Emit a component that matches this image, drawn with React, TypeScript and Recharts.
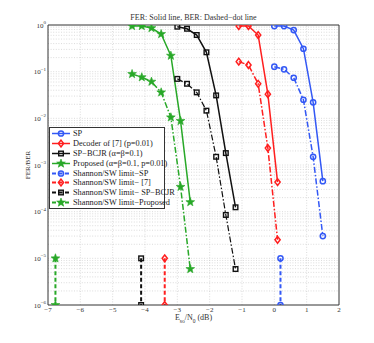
import React from "react";
import { LineChart, Line, XAxis, YAxis, ReferenceLine } from "recharts";

const FONT = '"Liberation Serif", "Times New Roman", serif';

// x positions (dB) and FER/BER values per decoder
const spX = [0, 0.3, 0.6, 0.9, 1.2, 1.5];
const spFer = [0.95, 0.95, 0.78, 0.31, 0.022, 4.5e-4];
const spBer = [0.128, 0.112, 0.074, 0.025, 1.5e-3, 3.0e-5];

const ref7X = [-1.1, -0.8, -0.5, -0.2, 0.1];
const ref7Fer = [0.95, 0.95, 0.61, 0.033, 4.3e-4];
const ref7Ber = [0.164, 0.139, 0.055, 2.3e-3, 2.5e-5];

const bcjrX = [-3.0, -2.7, -2.4, -2.1, -1.8, -1.5, -1.2];
const bcjrFer = [0.92, 0.83, 0.61, 0.26, 0.031, 1.8e-3, 1.24e-4];
const bcjrBer = [0.07, 0.055, 0.036, 0.0146, 1.5e-3, 8.5e-5, 5.9e-6];

const propX = [-4.4, -4.1, -3.8, -3.5, -3.2, -2.9, -2.6];
const propFer = [0.95, 0.95, 0.86, 0.64, 0.22, 0.0088, 1.6e-4];
const propBer = [0.089, 0.076, 0.061, 0.036, 0.0105, 3.4e-4, 5.9e-6];

// Shannon/SW limits
const limitY = [1e-5, 1e-6];
const spLimit = 0.19;
const ref7Limit = -3.39;
const bcjrLimit = -4.12;
const propLimit = -6.77;

const xTicks = [-7, -6, -5, -4, -3, -2, -1, 0, 1, 2];
const yTicks = [1e-6, 1e-5, 1e-4, 1e-3, 1e-2, 1e-1, 1];
const minorY = [-6, -5, -4, -3, -2, -1].flatMap((e) =>
  [2, 3, 4, 5, 6, 7, 8, 9].map((k) => k * Math.pow(10, e))
);

const BLUE = "#3358f5";
const RED = "#ff1f1f";
const BLACK = "#111111";
const GREEN = "#28a828";

const zip = (xs: number[], ys: number[]) => xs.map((x, i) => ({ x, y: ys[i] }));
const vert = (x: number) => limitY.map((y) => ({ x, y }));

type Shape = "circle" | "diamond" | "square" | "star";

function markerPath(shape: Shape, cx: number, cy: number, color: string, key?: any) {
  if (shape === "circle")
    return <circle key={key} cx={cx} cy={cy} r={2.6} fill="none" stroke={color} strokeWidth={1.5} />;
  if (shape === "diamond")
    return (
      <polygon
        key={key}
        points={`${cx},${cy - 3.4} ${cx + 2.6},${cy} ${cx},${cy + 3.4} ${cx - 2.6},${cy}`}
        fill="none"
        stroke={color}
        strokeWidth={1.5}
      />
    );
  if (shape === "square")
    return <rect key={key} x={cx - 2.3} y={cy - 2.3} width={4.6} height={4.6} fill="none" stroke={color} strokeWidth={1.4} />;
  const pts: string[] = [];
  for (let i = 0; i < 10; i++) {
    const r = i % 2 === 0 ? 4.6 : 1.9;
    const a = (Math.PI / 5) * i - Math.PI / 2;
    pts.push(`${cx + r * Math.cos(a)},${cy + r * Math.sin(a)}`);
  }
  return <polygon key={key} points={pts.join(" ")} fill={color} stroke={color} strokeWidth={0.6} />;
}

const dot = (shape: Shape, color: string) => (p: any) =>
  p.cx == null || p.cy == null ? <g key={p.key} /> : markerPath(shape, p.cx, p.cy, color, p.key);

const YTick = ({ x, y, payload }: any) => {
  const e = Math.round(Math.log10(payload.value));
  return (
    <text x={x + 6} y={y + 2.5} textAnchor="end" fontSize={7} fontFamily={FONT} fill="#333">
      10
      <tspan dy={-3.5} fontSize={5}>
        {e === 0 ? "0" : "−" + -e}
      </tspan>
    </text>
  );
};

const XTick = ({ x, y, payload }: any) => (
  <text x={x} y={y - 1} textAnchor="middle" fontSize={7} fontFamily={FONT} fill="#333">
    {payload.value < 0 ? "−" + -payload.value : payload.value}
  </text>
);

const legendItems: { label: string; color: string; shape: Shape; dash?: string }[] = [
  { label: "SP", color: BLUE, shape: "circle" },
  { label: "Decoder of [7] (p=0.01)", color: RED, shape: "diamond" },
  { label: "SP−BCJR (α=β=0.1)", color: BLACK, shape: "square" },
  { label: "Proposed (α=β=0.1, p=0.01)", color: GREEN, shape: "star" },
  { label: "Shannon/SW limit−SP", color: BLUE, shape: "circle", dash: "4 2.5" },
  { label: "Shannon/SW limit− [7]", color: RED, shape: "diamond", dash: "4 2.5" },
  { label: "Shannon/SW limit− SP−BCJR", color: BLACK, shape: "square", dash: "4 2.5" },
  { label: "Shannon/SW limit−Proposed", color: GREEN, shape: "star", dash: "4 2.5" },
];

const gridStyle = { stroke: "#c4c4c4", strokeWidth: 0.6, strokeDasharray: "1 1.6" };

export default function App() {
  return (
    <div style={{ position: "fixed", left: 0, top: 0, width: 374, height: 343, background: "#fff", fontFamily: FONT }}>
      <LineChart width={374} height={343} margin={{ top: 25, right: 35, left: 0, bottom: 0 }}>
        <XAxis
          dataKey="x"
          type="number"
          domain={[-7, 2]}
          ticks={xTicks}
          tick={<XTick />}
          tickLine={false}
          axisLine={{ stroke: "#333" }}
          height={38}
          allowDataOverflow
        />
        <YAxis
          type="number"
          scale="log"
          domain={[1e-6, 1]}
          ticks={yTicks}
          tick={<YTick />}
          tickLine={false}
          axisLine={{ stroke: "#333" }}
          width={48}
          allowDataOverflow
        />
        {minorY.map((v) => (
          <ReferenceLine key={"m" + v} y={v} {...gridStyle} />
        ))}
        {yTicks.slice(1, -1).map((v) => (
          <ReferenceLine key={"M" + v} y={v} {...gridStyle} />
        ))}
        {xTicks.slice(1, -1).map((v) => (
          <ReferenceLine key={"x" + v} x={v} {...gridStyle} />
        ))}
        <ReferenceLine y={1} stroke="#333" />
        <ReferenceLine x={2} stroke="#333" />

        <Line data={zip(spX, spFer)} dataKey="y" stroke={BLUE} strokeWidth={1.5} dot={dot("circle", BLUE)} isAnimationActive={false} />
        <Line data={zip(ref7X, ref7Fer)} dataKey="y" stroke={RED} strokeWidth={1.5} dot={dot("diamond", RED)} isAnimationActive={false} />
        <Line data={zip(bcjrX, bcjrFer)} dataKey="y" stroke={BLACK} strokeWidth={1.5} dot={dot("square", BLACK)} isAnimationActive={false} />
        <Line data={zip(propX, propFer)} dataKey="y" stroke={GREEN} strokeWidth={1.5} dot={dot("star", GREEN)} isAnimationActive={false} />

        <Line data={zip(spX, spBer)} dataKey="y" stroke={BLUE} strokeWidth={1.5} strokeDasharray="6 2 1.5 2" dot={dot("circle", BLUE)} isAnimationActive={false} />
        <Line data={zip(ref7X, ref7Ber)} dataKey="y" stroke={RED} strokeWidth={1.5} strokeDasharray="6 2 1.5 2" dot={dot("diamond", RED)} isAnimationActive={false} />
        <Line data={zip(bcjrX, bcjrBer)} dataKey="y" stroke={BLACK} strokeWidth={1.2} strokeDasharray="6 2 1.5 2" dot={dot("square", BLACK)} isAnimationActive={false} />
        <Line data={zip(propX, propBer)} dataKey="y" stroke={GREEN} strokeWidth={1.5} strokeDasharray="6 2 1.5 2" dot={dot("star", GREEN)} isAnimationActive={false} />

        <Line data={vert(spLimit)} dataKey="y" stroke={BLUE} strokeWidth={2} strokeDasharray="4 2.5" dot={dot("circle", BLUE)} isAnimationActive={false} />
        <Line data={vert(ref7Limit)} dataKey="y" stroke={RED} strokeWidth={2} strokeDasharray="4 2.5" dot={dot("diamond", RED)} isAnimationActive={false} />
        <Line data={vert(bcjrLimit)} dataKey="y" stroke={BLACK} strokeWidth={2} strokeDasharray="4 2.5" dot={dot("square", BLACK)} isAnimationActive={false} />
        <Line data={vert(propLimit)} dataKey="y" stroke={GREEN} strokeWidth={2} strokeDasharray="4 2.5" dot={dot("star", GREEN)} isAnimationActive={false} />
      </LineChart>

      <div style={{ position: "absolute", left: 48, width: 291, top: 13, textAlign: "center", fontSize: 8, color: "#333" }}>
        FER: Solid line, BER: Dashed−dot line
      </div>
      <div
        style={{
          position: "absolute",
          left: 28,
          top: 165,
          transform: "translate(-50%, -50%) rotate(-90deg)",
          fontSize: 7,
          color: "#333",
          whiteSpace: "nowrap",
        }}
      >
        FER/BER
      </div>
      <div
        style={{
          position: "absolute",
          left: 48,
          width: 291,
          top: 313,
          textAlign: "center",
          fontSize: 8,
          lineHeight: "9px",
          color: "#333",
          whiteSpace: "nowrap",
        }}
      >
        <span>E</span>
        <span style={{ fontSize: 5.5, lineHeight: "6px", display: "inline-block", transform: "translateY(3px)" }}>so</span>
        <span>/N</span>
        <span style={{ fontSize: 5.5, lineHeight: "6px", display: "inline-block", transform: "translateY(3px)" }}>0</span>
        <span> (dB)</span>
      </div>

      <div
        style={{
          position: "absolute",
          left: 49,
          top: 127,
          width: 114,
          border: "1px solid #333",
          background: "#fff",
          padding: "1px 0 1px 0",
        }}
      >
        {legendItems.map((it) => (
          <div key={it.label} style={{ display: "flex", alignItems: "center", height: 9.8 }}>
            <svg width={22} height={9} style={{ marginLeft: 1, flex: "none" }}>
              <line x1={1} x2={19} y1={4.5} y2={4.5} stroke={it.color} strokeWidth={it.dash ? 2 : 1.5} strokeDasharray={it.dash} />
              {markerPath(it.shape, 10, 4.5, it.color)}
            </svg>
            <span style={{ fontSize: 8.3, color: "#222", whiteSpace: "nowrap", lineHeight: "9px" }}>{it.label}</span>
          </div>
        ))}
      </div>
    </div>
  );
}
